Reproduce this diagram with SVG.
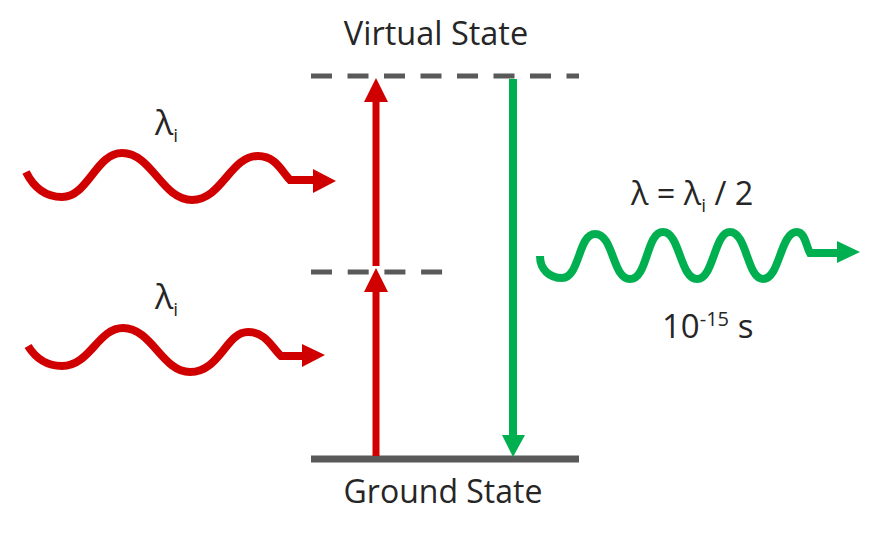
<svg xmlns="http://www.w3.org/2000/svg" width="888" height="538" viewBox="0 0 888 538">
<style>
.t{font-family:"Open Sans","Liberation Sans",sans-serif;fill:#262626;}
.lvl{stroke:#595959;fill:none;}
.red{stroke:#D00000;fill:none;}
.grn{stroke:#00B050;fill:none;}
.rh{fill:#D00000;}
.gh{fill:#00B050;}
</style>
<rect width="888" height="538" fill="#fff"/>
<g id="virtual-state">
<line class="lvl" x1="311" y1="76" x2="579" y2="76" stroke-width="5" stroke-dasharray="21 15.5"/>
<text class="t" x="436" y="45" font-size="32.5" text-anchor="middle">Virtual State</text>
</g>
<g id="intermediate-state">
<line class="lvl" x1="311" y1="272" x2="443" y2="272" stroke-width="5" stroke-dasharray="21 15.7"/>
</g>
<g id="ground-state">
<line class="lvl" x1="311" y1="459" x2="579" y2="459" stroke-width="7"/>
<text class="t" x="443" y="503" font-size="32" text-anchor="middle">Ground State</text>
</g>
<g id="photon-in-1">
<path class="red" stroke-width="8" d="M26,172 C36,192 50,197 62,197 C88,197 96,153 122,153 C152,153 162,200 192,200 C222,200 230,156 258,156 C276,156 282,172 290,180 L314,180"/>
<polygon class="rh" points="313,169 336,181 313,193"/>
<text class="t" x="155" y="135" font-size="34">λ<tspan font-size="19" dy="7">i</tspan></text>
</g>
<g id="photon-in-2">
<path class="red" stroke-width="8" d="M28,346 C38,362 50,366 62,366 C90,366 98,328 123,328 C152,328 162,372 190,372 C220,372 226,332 248,332 C266,332 272,348 281,356 L303,356"/>
<polygon class="rh" points="302,344 325,355 302,367"/>
<text class="t" x="155" y="309" font-size="34">λ<tspan font-size="19" dy="7">i</tspan></text>
</g>
<g id="photon-out">
<path class="grn" stroke-width="8" d="M540,256 C540,270 550,278 562,278 C580,278 578,234 595,234 C614,234 612,279 630,279 C648,279 646,232 663,232 C680,232 680,279 697,279 C714,279 714,232 730,232 C747,232 747,279 763,279 C780,279 780,232 797,232 C805,232 806,246 810,253 L838,253"/>
<polygon class="gh" points="837,241 860,252 837,263"/>
<text class="t" x="631" y="205" font-size="32.5">λ = λ<tspan font-size="19" dy="7">i</tspan><tspan dy="-7"> / 2</tspan></text>
<text class="t" x="662" y="338" font-size="33">10<tspan font-size="20" dy="-12">-15</tspan><tspan dy="12"> s</tspan></text>
</g>
<g id="connectors">
<line class="red" stroke-width="7" x1="376" y1="456" x2="376" y2="290"/>
<polygon class="rh" points="364,292 376,268 388,292"/>
<line class="red" stroke-width="7" x1="376" y1="266" x2="376" y2="100"/>
<polygon class="rh" points="364,102 376,78 388,102"/>
<line class="grn" stroke-width="8" x1="513" y1="79" x2="513" y2="437"/>
<polygon class="gh" points="502,435 513,457 525,435"/>
</g>
</svg>
